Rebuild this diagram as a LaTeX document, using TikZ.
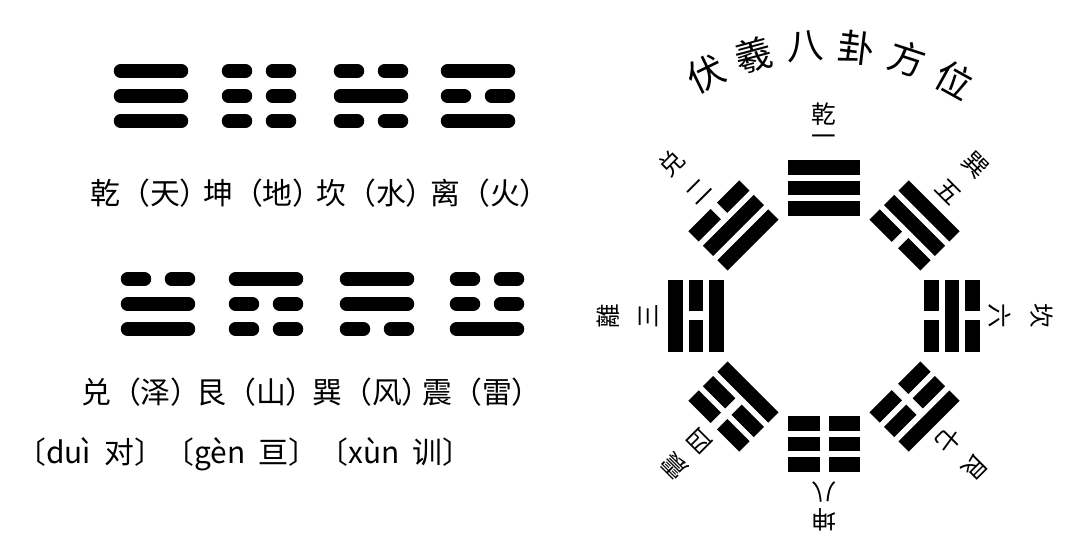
\documentclass[tikz,border=0pt]{standalone}
\usepackage{fontspec}
\newfontfamily\cjk{Noto Sans CJK SC}
\usetikzlibrary{positioning}

\tikzset{
  leftgua/.style={line width=0.27cm, line cap=round,
    /utils/exec={\def\hl{30.5}\def\hg{13.5}\def\pitch{25}}},
  rightgua/.style={line width=0.29cm, line cap=butt,
    /utils/exec={\def\hl{36}\def\hg{4.5}\def\pitch{20.5}}},
  guaname/.style={font=\cjk\fontsize{17}{19}\selectfont, inner sep=0pt},
  pinyin/.style={font=\cjk\fontsize{17}{19}\selectfont, inner sep=0pt},
  ringlab/.style={font=\cjk\fontsize{14}{16}\selectfont, inner sep=0pt},
  titlechar/.style={font=\cjk\fontsize{21}{23}\selectfont, inner sep=0pt},
}

% three lines of a trigram, bottom line first: 1 solid, 0 broken
\newcommand{\gua}[4]{%
  \begin{scope}[shift={#1}, rotate=#2, #4]
    \edef\guabits{#3}%
    \foreach \b [count=\i from -1] in \guabits {
      \ifnum\b=1
        \draw (-\hl,\i*\pitch) -- (\hl,\i*\pitch);
      \else
        \draw (-\hl,\i*\pitch) -- (-\hg,\i*\pitch) (\hg,\i*\pitch) -- (\hl,\i*\pitch);
      \fi
    }
  \end{scope}}

\begin{document}
\begin{tikzpicture}[x=0.02cm, y=0.02cm]
  \useasboundingbox (0,0) rectangle (1080,554);

  % left: the eight trigrams with names
  \gua{(151,458)}{0}{1,1,1}{leftgua}
  \gua{(259,458)}{0}{0,0,0}{leftgua}
  \gua{(371,458)}{0}{0,1,0}{leftgua}
  \gua{(478,458)}{0}{1,0,1}{leftgua}
  \node[guaname] (qian) at (150,361) {乾（天）};
  \node[guaname] (kun)  at (263,361) {坤（地）};
  \node[guaname] (kan)  at (376,361) {坎（水）};
  \node[guaname] (li)   at (490,361) {离（火）};

  \gua{(158,250)}{0}{1,1,0}{leftgua}
  \gua{(266,250)}{0}{0,0,1}{leftgua}
  \gua{(377,250)}{0}{0,1,1}{leftgua}
  \gua{(487,250)}{0}{1,0,0}{leftgua}
  \node[guaname] (dui)  at (141,162) {兑（泽）};
  \node[guaname] (gen)  at (256,162) {艮（山）};
  \node[guaname] (xun)  at (372,162) {巽（风）};
  \node[guaname] (zhen) at (482,162) {震（雷）};
  \node[pinyin, anchor=west] (yin) at (16,100)
    {〔duì\ \ 对〕〔gèn\ \ 亘〕〔xùn\ \ 训〕};

  % right: Fuxi order round the centre
  \begin{scope}[shift={(824,238)}]
    \foreach \a/\bits/\gname/\num/\r in {90/{1,1,1}/乾/一/202, 135/{1,1,0}/兑/二/216,
        180/{1,0,1}/離/三/216, 225/{1,0,0}/震/四/212, 45/{0,1,1}/巽/五/214,
        0/{0,1,0}/坎/六/218, 315/{0,0,1}/艮/七/214, 270/{0,0,0}/坤/八/204} {
      \gua{(\a:128)}{\a-90}{\bits}{rightgua}
      \node[ringlab, rotate=\a-90] (num\a) at (\a:176) {\num};
      \node[ringlab, rotate=\a-90] (gua\a) at (\a:\r) {\gname};
    }
    \foreach \c [count=\k from 0] in {伏,羲,八,卦,方,位}
      \node[titlechar, rotate={26-\k*11}] (title\k) at ({116-\k*11}:270) {\c};
  \end{scope}
\end{tikzpicture}
\end{document}
